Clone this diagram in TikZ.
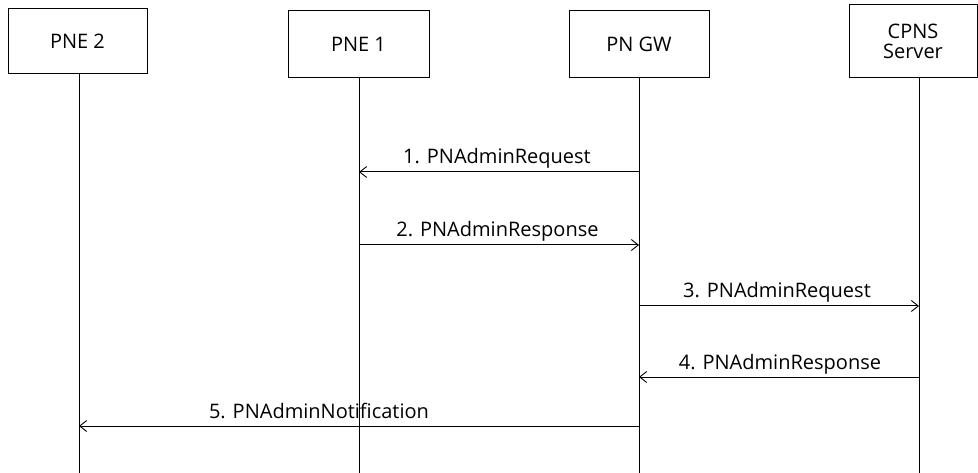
\documentclass[tikz,border=0pt]{standalone}
\usepackage{fontspec}
\setmainfont{Open Sans}
\usetikzlibrary{arrows.meta}
\tikzset{
  actor/.style={draw, line width=1pt, inner sep=0pt, align=center, font=\fontsize{20}{23}\selectfont},
  life/.style={line width=1pt},
  msg/.style={line width=1pt, -{Straight Barb[length=7pt, width=11pt, line width=0.9pt]}},
  lbl/.style={anchor=base, inner sep=0pt, font=\fontsize{20}{23}\selectfont}
}
\begin{document}
\begin{tikzpicture}[x=1pt, y=-1pt]
\useasboundingbox (0,0) rectangle (978,473);
\node[actor, minimum width=139pt, minimum height=65pt] (pne2) at (77.5,41.5) {PNE 2};
\node[actor, minimum width=141pt, minimum height=67pt] (pne1) at (358.5,44.5) {PNE 1};
\node[actor, minimum width=140pt, minimum height=67pt] (gw) at (639,44.5) {PN GW};
\node[actor, minimum width=128pt, minimum height=73pt] (cpns) at (913,41.5) {CPNS\\[-3pt]Server};
% lifeline ends
\coordinate (e2) at (79,474);
\coordinate (e1) at (359,474);
\coordinate (eg) at (639,474);
\coordinate (ec) at (919,474);
\draw[life] (79,74) coordinate (t2) -- (e2);
\draw[life] (359,78) coordinate (t1) -- (e1);
\draw[life] (639,78) coordinate (tg) -- (eg);
\draw[life] (919,78) coordinate (tc) -- (ec);
% message points
\coordinate (g1) at (639,172); \coordinate (p1) at (359,172);
\coordinate (p2) at (359,245); \coordinate (g2) at (639,245);
\coordinate (g3) at (639,306); \coordinate (c3) at (919,306);
\coordinate (c4) at (919,377); \coordinate (g4) at (639,377);
\coordinate (g5) at (639,426); \coordinate (q5) at (79,426);
\draw[msg] (g1) -- (p1);
\draw[msg] (p2) -- (g2);
\draw[msg] (g3) -- (c3);
\draw[msg] (c4) -- (g4);
\draw[msg] (g5) -- (q5);
\node[lbl] (l1) at (497,164) {1. PNAdminRequest};
\node[lbl] (l2) at (497.5,237) {2. PNAdminResponse};
\node[lbl] (l3) at (777,298) {3. PNAdminRequest};
\node[lbl] (l4) at (780,369) {4. PNAdminResponse};
\node[lbl] (l5) at (319,418) {5. PNAdminNotification};
\end{tikzpicture}
\end{document}
